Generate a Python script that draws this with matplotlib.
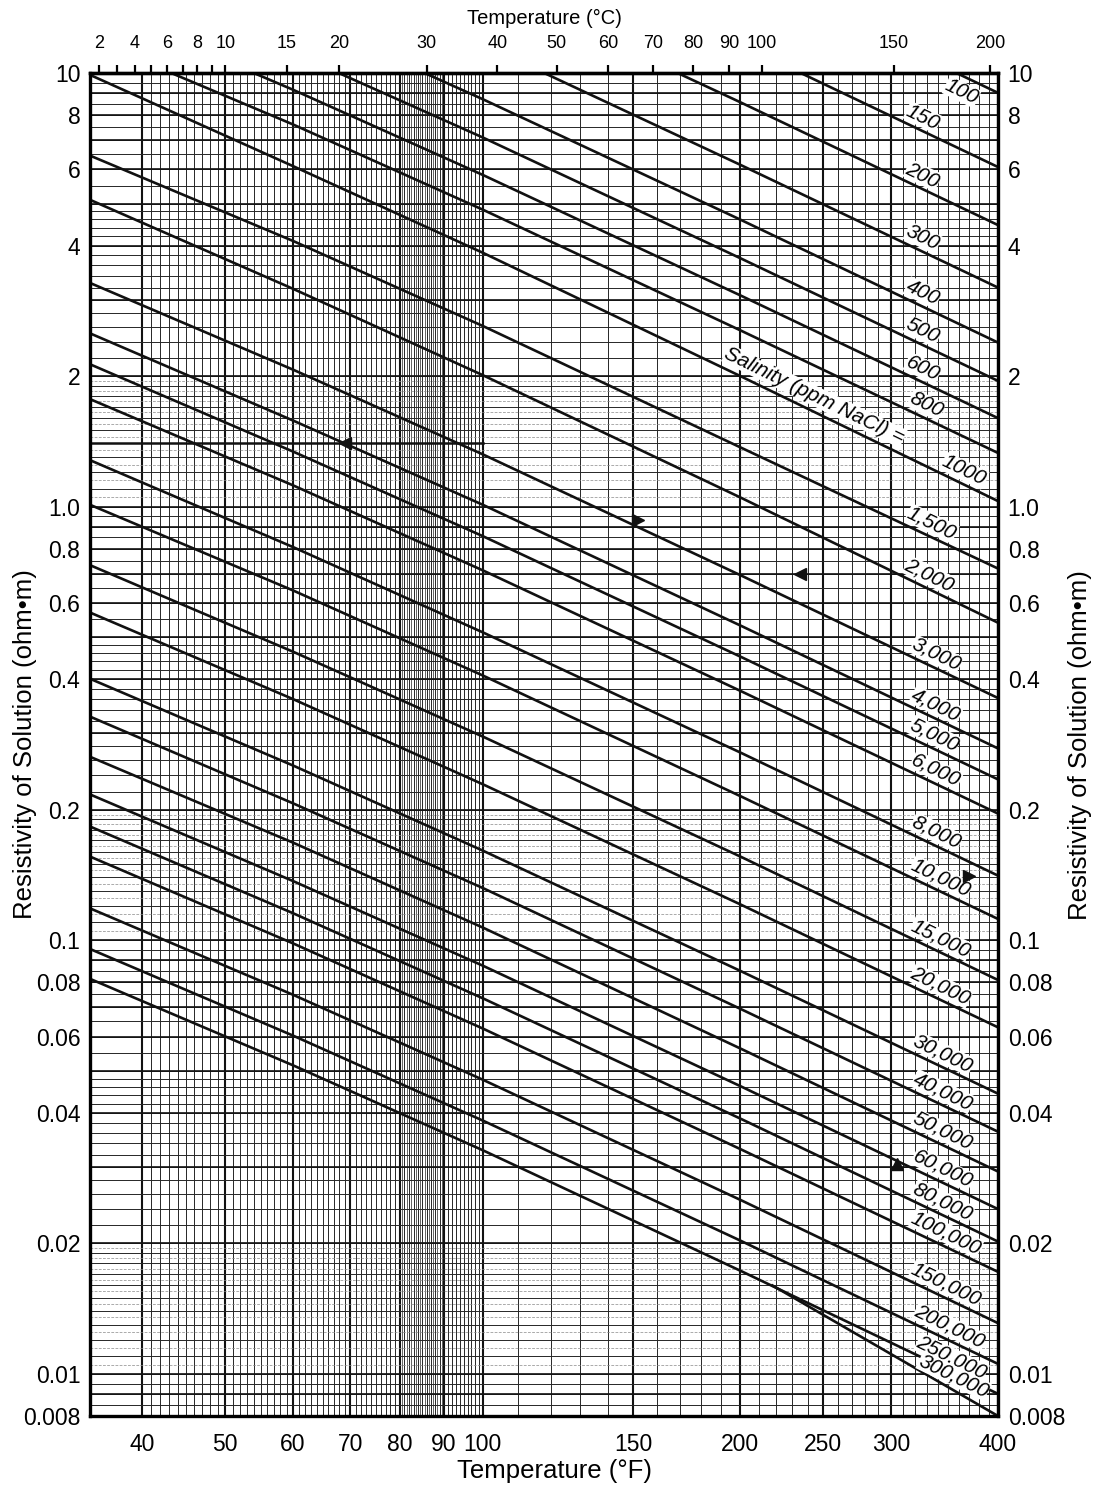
import numpy as np
import matplotlib
matplotlib.use('Agg')
import matplotlib.pyplot as plt
from matplotlib.ticker import NullLocator

plt.rcParams['font.family'] = ['Liberation Sans', 'DejaVu Sans']

temps_f = [34.75, 60, 100, 200, 400]

salinity = ['100', '150', '200', '300', '400', '500', '600', '800', '1000',
            '1,500', '2,000', '3,000', '4,000', '5,000', '6,000', '8,000',
            '10,000', '15,000', '20,000', '30,000', '40,000', '50,000',
            '60,000', '80,000', '100,000', '150,000', '200,000', '250,000']

# resistivity (ohm-m) at temps_f, one row per salinity
res_ohmm = [
    [81.5, 51.5, 32.8, 17.3, 9.0],
    [54.9, 34.7, 22.1, 11.65, 6.07],
    [40.4, 25.5, 16.2, 8.56, 4.46],
    [29.0, 18.3, 11.65, 6.14, 3.2],
    [21.6, 13.7, 8.70, 4.59, 2.39],
    [17.6, 11.15, 7.10, 3.74, 1.95],
    [14.5, 9.15, 5.82, 3.07, 1.6],
    [12.0, 7.61, 4.84, 2.55, 1.33],
    [9.9, 6.1, 3.85, 2.0, 1.03],
    [6.45, 4.10, 2.61, 1.37, 0.72],
    [5.10, 3.18, 2.01, 1.05, 0.54],
    [3.28, 2.07, 1.32, 0.695, 0.362],
    [2.51, 1.58, 1.01, 0.532, 0.277],
    [2.13, 1.34, 0.855, 0.451, 0.235],
    [1.77, 1.12, 0.713, 0.376, 0.196],
    [1.28, 0.807, 0.513, 0.271, 0.141],
    [1.01, 0.641, 0.408, 0.215, 0.112],
    [0.733, 0.463, 0.295, 0.156, 0.081],
    [0.570, 0.360, 0.229, 0.121, 0.063],
    [0.401, 0.253, 0.161, 0.085, 0.0443],
    [0.328, 0.207, 0.132, 0.0695, 0.0362],
    [0.265, 0.168, 0.107, 0.0563, 0.0293],
    [0.217, 0.137, 0.0874, 0.0461, 0.024],
    [0.183, 0.1155, 0.0735, 0.0388, 0.0202],
    [0.156, 0.0984, 0.0626, 0.033, 0.0172],
    [0.1185, 0.0749, 0.0477, 0.0252, 0.0131],
    [0.0955, 0.0603, 0.0384, 0.0203, 0.01055],
    [0.0815, 0.0515, 0.0328, 0.0173, 0.0090],
]

# 300,000 ppm only exists at high temperature (branches off the 250,000 line)
temps_300k = [218, 400]
res_300k = [0.0160, 0.0080]

# where each label sits along its curve (degF)
label_t = [368, 322, 322, 322, 322, 322, 322, 325, 360,
           330, 328, 334, 334, 332, 334, 334, 338, 338, 338, 340, 340, 340,
           340, 340, 343, 343, 346, 348]
label_t_300k = 350

xticks_f = [40, 50, 60, 70, 80, 90, 100, 150, 200, 250, 300, 400]
yticks = [10, 8, 6, 4, 2, 1, 0.8, 0.6, 0.4, 0.2, 0.1, 0.08, 0.06, 0.04, 0.02, 0.01, 0.008]
ytick_labels = ['10', '8', '6', '4', '2', '1.0', '0.8', '0.6', '0.4', '0.2', '0.1',
                '0.08', '0.06', '0.04', '0.02', '0.01', '0.008']
cticks = [2, 3, 4, 5, 6, 7, 8, 9, 10, 15, 20, 30, 40, 50, 60, 70, 80, 90, 100, 150, 200]
ctick_labels = ['2', '', '4', '', '6', '', '8', '', '10', '15', '20', '30', '40', '50',
                '60', '70', '80', '90', '100', '150', '200']

fig = plt.figure(figsize=(10.96, 14.90), dpi=100)
ax = fig.add_axes([90 / 1096, 74 / 1490, 908 / 1096, 1343 / 1490])
ax.set_xscale('log')
ax.set_yscale('log')
ax.set_xlim(34.75, 400)
ax.set_ylim(0.008, 10)

gc = '#262626'
# vertical grid
for t in np.arange(40, 101, 1):
    ax.axvline(t, color=gc, lw=0.7, zorder=1)
for t in np.arange(80.5, 90, 1):
    ax.axvline(t, color=gc, lw=0.5, zorder=1)
for t in np.arange(110, 400, 10):
    ax.axvline(t, color=gc, lw=0.7, zorder=1)
for t in xticks_f:
    ax.axvline(t, color='#111111', lw=1.5, zorder=1)

# horizontal grid
for d in [0.001, 0.01, 0.1, 1]:
    levels = list(np.arange(1, 2, 0.1)) + list(np.arange(2, 5, 0.2)) + list(np.arange(5, 10, 0.5))
    for k in levels:
        v = d * k
        if 0.008 <= v <= 10:
            ax.axhline(v, color=gc, lw=0.7, zorder=1)
    for k in np.arange(1.05, 2, 0.1):
        v = d * k
        if 0.008 <= v <= 10:
            ax.axhline(v, color='#888888', lw=0.5, ls=(0, (4, 2)), zorder=1)
    for k in range(1, 10):
        v = d * k
        if 0.008 <= v <= 10:
            ax.axhline(v, color='#111111', lw=1.2, zorder=1)

# salinity curves
for row in res_ohmm:
    ax.plot(temps_f, row, color='#111111', lw=1.9, zorder=3, solid_capstyle='butt')
ax.plot(temps_300k, res_300k, color='#111111', lw=1.9, zorder=3)

# curve labels
ang = 26
off = (3.8, 8.2)
lab_kw = dict(textcoords='offset points', rotation=-ang, ha='center', va='center',
              fontsize=15, style='italic', zorder=5,
              bbox=dict(fc='white', ec='none', pad=0.2))
for name, row, t in zip(salinity, res_ohmm, label_t):
    r = 10 ** np.interp(np.log10(t), np.log10(temps_f), np.log10(row))
    o = off
    if name == '100':
        o = (-3.8, -10)
    ax.annotate(name, (t, r), xytext=o, **lab_kw)
r = 10 ** np.interp(np.log10(label_t_300k), np.log10(temps_300k), np.log10(res_300k))
ax.annotate('300,000', (label_t_300k, r), xytext=off, **lab_kw)
r = 10 ** np.interp(np.log10(240), np.log10(temps_f), np.log10(res_ohmm[8]))
ax.annotate('Salinity (ppm NaCl) =', (240, r), xytext=(4.5, 9.5), **lab_kw)

# worked example marks
ax.plot([34.75, 100], [1.4, 1.4], color='#111111', lw=1.8, zorder=3)
mk = dict(color='#111111', ms=8, zorder=7, clip_on=False)
ax.plot([69], [1.4], marker='<', **mk)
ax.plot([152], [0.93], marker='>', **mk)
ax.plot([235], [0.70], marker='<', **mk)
ax.plot([370], [0.141], marker='>', **mk)
ax.plot([305], [0.0305], marker='^', **mk)

# axes, ticks
for s in ax.spines.values():
    s.set_linewidth(2.4)
    s.set_zorder(6)
ax.xaxis.set_minor_locator(NullLocator())
ax.yaxis.set_minor_locator(NullLocator())
ax.set_xticks(xticks_f, [str(v) for v in xticks_f])
ax.set_yticks(yticks, ytick_labels)
ax.tick_params(axis='x', length=0, pad=12, labelsize=16.5)
ax.tick_params(axis='y', length=0, pad=7, labelsize=16.5, labelright=True)
ax.set_xlabel('Temperature (°F)', fontsize=18.5, labelpad=5)
ax.xaxis.set_label_coords(0.512, -0.032)
ax.set_ylabel('Resistivity of Solution (ohm•m)', fontsize=18.5)
ax.yaxis.set_label_coords(-0.058, 0.5)
fig.text(1080 / 1096, 0.5, 'Resistivity of Solution (ohm•m)', fontsize=18.5,
         rotation=90, ha='center', va='center')

sec = ax.secondary_xaxis('top', functions=(lambda f: (f - 32) / 1.8, lambda c: c * 1.8 + 32))
sec.set_xticks(cticks, ctick_labels)
sec.xaxis.set_minor_locator(NullLocator())
sec.tick_params(axis='x', length=6, width=1.6, pad=9, labelsize=13, direction='out')
sec.spines['top'].set_linewidth(2.4)
sec.set_xlabel('Temperature (°C)', fontsize=14.5, labelpad=8)

fig.savefig('out.png', dpi=100)
